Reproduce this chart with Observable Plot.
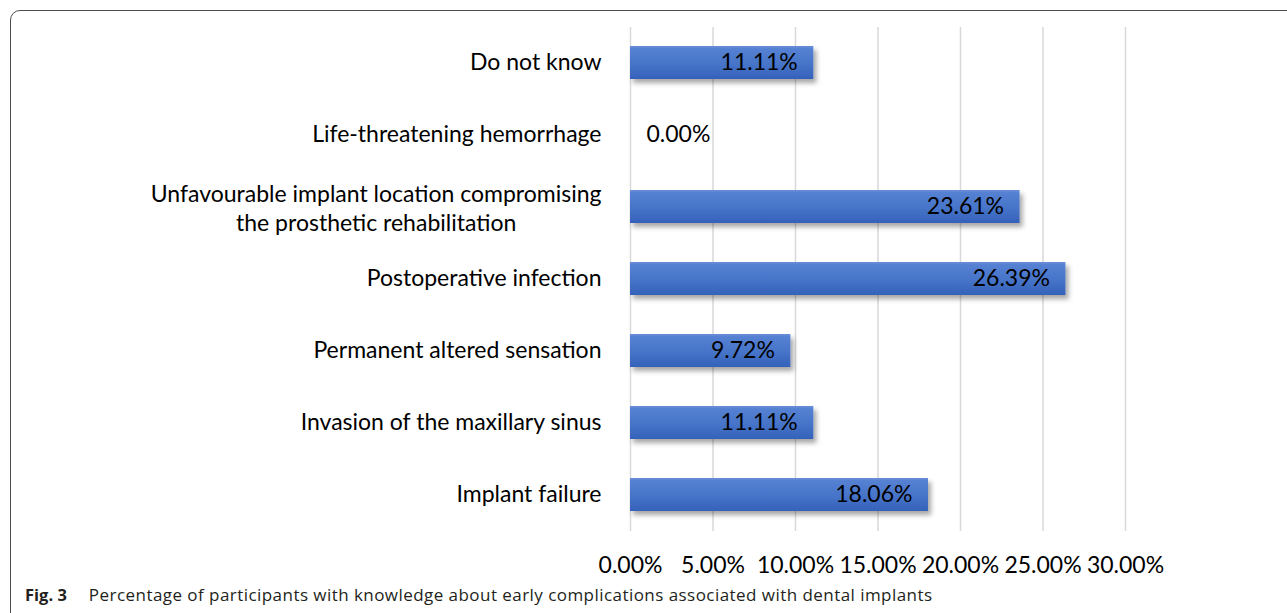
<!DOCTYPE html>
<html>
<head>
<meta charset="utf-8">
<script src="https://cdn.jsdelivr.net/npm/d3@7"></script>
<script src="https://cdn.jsdelivr.net/npm/@observablehq/plot@0.6"></script>
<style>
  html, body { margin: 0; padding: 0; background: #fff; }
  #wrap { position: relative; width: 1287px; height: 613px; overflow: hidden; background: #fff; }
  #frame { position: absolute; left: 10px; top: 10px; width: 1320px; height: 700px;
           border: 1.5px solid #4d4d4d; border-radius: 10px; box-sizing: border-box; }
  #chart { position: absolute; left: 0; top: 0; }
  #caption { position: absolute; left: 25px; top: 583px; font-family: "Open Sans", sans-serif;
             font-size: 17px; letter-spacing: 0.45px; color: #231f20; white-space: nowrap; }
  #caption b { font-weight: 700; font-size: 16.5px; letter-spacing: 0; margin-right: 22px; }
</style>
</head>
<body>
<div id="wrap">
  <div id="frame"></div>
  <div id="chart"></div>
  <div id="caption"><b>Fig. 3</b>Percentage of participants with knowledge about early complications associated with dental implants</div>
</div>
<script>
// ---- data ----
const categories = [
  "Do not know",
  "Life-threatening hemorrhage",
  "Unfavourable implant location compromising\nthe prosthetic rehabilitation",
  "Postoperative infection",
  "Permanent altered sensation",
  "Invasion of the maxillary sinus",
  "Implant failure"
];
const values = [11.11, 0.00, 23.61, 26.39, 9.72, 11.11, 18.06];
const xTicks = [0, 5, 10, 15, 20, 25, 30];

const data = categories.map((c, i) => ({cat: c, value: values[i]}));
const fmt = d => d.toFixed(2) + "%";
const FONT = "Lato";
const FS = 23;

const singleLine = categories.filter(c => !c.includes("\n"));
const multiLine = categories.filter(c => c.includes("\n"));

// measure width of multi-line label to center its lines within a right-aligned block
const ctx = document.createElement("canvas").getContext("2d");
ctx.font = `${FS}px ${FONT}`;
const blockW = c => Math.max(...c.split("\n").map(l => ctx.measureText(l).width));
const LABEL_GAP = 29;

const chart = Plot.plot({
  width: 1287,
  height: 580,
  marginLeft: 630,
  marginRight: 162,
  marginTop: 27,
  marginBottom: 49,
  style: { fontFamily: FONT, fontSize: FS + "px", color: "#000", background: "transparent" },
  x: { domain: [0, 30], ticks: xTicks, tickFormat: fmt, tickSize: 0, tickPadding: 25, label: null },
  y: { domain: categories, paddingInner: 0.54, paddingOuter: 0.27, axis: null },
  marks: [
    Plot.ruleX(xTicks, { stroke: "#d9d9d9", strokeWidth: 1.5 }),
    Plot.barX(data, { x: "value", y: "cat", fill: "url(#barGrad)" }),
    Plot.text(data.filter(d => d.value > 0), { x: "value", y: "cat", text: d => fmt(d.value), textAnchor: "end", dx: -16, fill: "#000" }),
    Plot.text(data.filter(d => d.value === 0), { x: "value", y: "cat", text: d => fmt(d.value), textAnchor: "start", dx: 16, fill: "#000" }),
    Plot.text(singleLine, { x: () => 0, y: d => d, text: d => d, textAnchor: "end", dx: -LABEL_GAP, fill: "#000" }),
    ...multiLine.map(c => Plot.text([c], { x: () => 0, y: d => d, text: d => d, textAnchor: "middle",
      dx: -LABEL_GAP - blockW(c) / 2, lineHeight: 1.27, fill: "#000" }))
  ]
});

// gradient + shadow defs
const svg = d3.select(chart);
const defs = svg.insert("defs", ":first-child");
const g = defs.append("linearGradient").attr("id", "barGrad").attr("x1", 0).attr("y1", 0).attr("x2", 0).attr("y2", 1);
g.append("stop").attr("offset", "0%").attr("stop-color", "#6b90d9");
g.append("stop").attr("offset", "8%").attr("stop-color", "#5681d3");
g.append("stop").attr("offset", "55%").attr("stop-color", "#4674c8");
g.append("stop").attr("offset", "100%").attr("stop-color", "#3561ba");
const f = defs.append("filter").attr("id", "shadow").attr("x", "-10%").attr("y", "-30%").attr("width", "130%").attr("height", "180%");
f.append("feDropShadow").attr("dx", 3).attr("dy", 4).attr("stdDeviation", 2.5).attr("flood-color", "#000").attr("flood-opacity", 0.35);
svg.selectAll("g[aria-label='bar']").attr("filter", "url(#shadow)");

document.getElementById("chart").appendChild(chart);
</script>
</body>
</html>
